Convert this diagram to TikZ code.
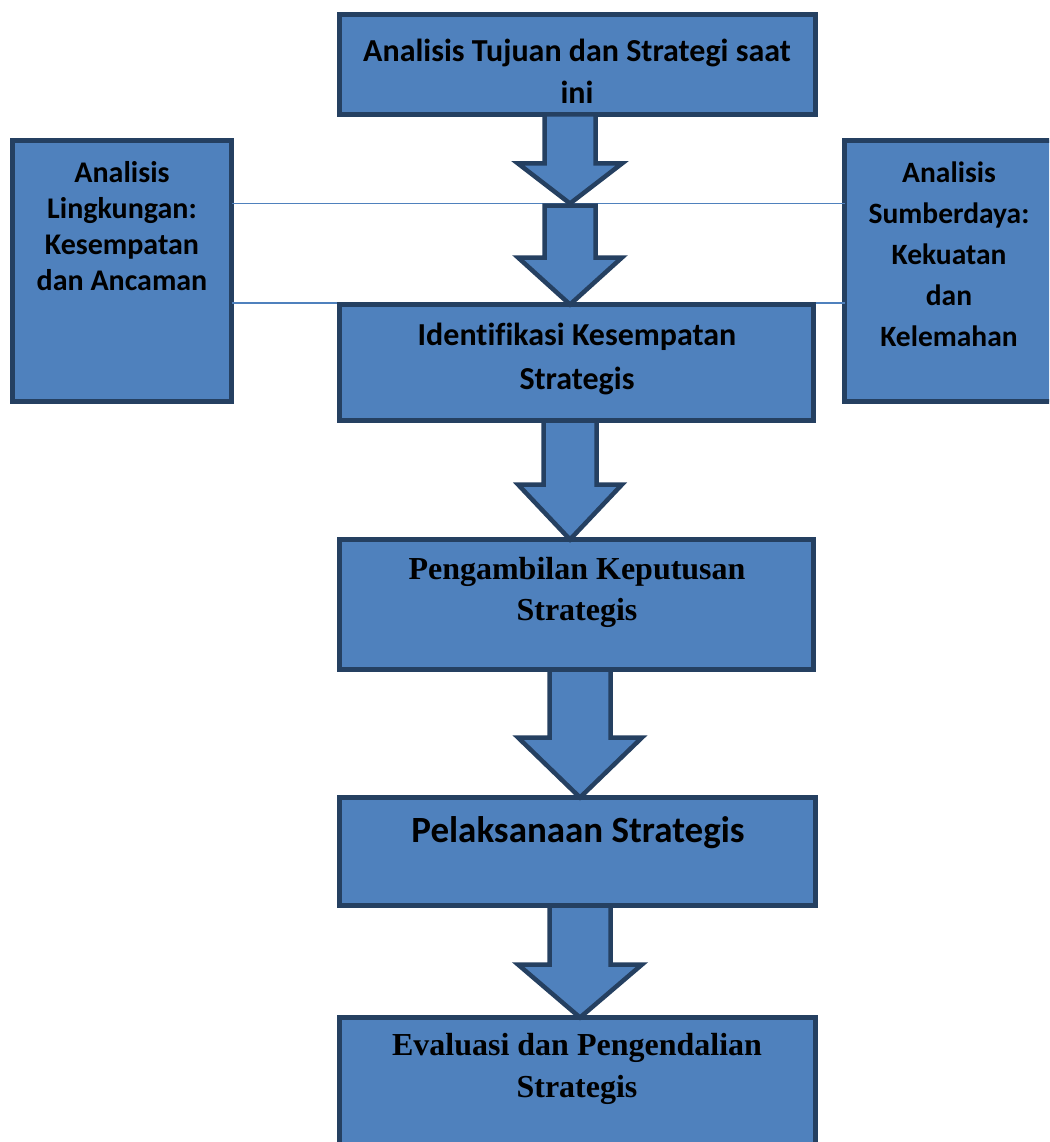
\documentclass[tikz,border=0pt]{standalone}
\usepackage{fontspec}
\setmainfont{Carlito}[Ligatures=CommonOff]
\newfontfamily\timesfont{Liberation Serif}
\usetikzlibrary{calc}
\definecolor{boxfill}{HTML}{4F81BD}
\definecolor{boxline}{HTML}{254061}
\tikzset{
  box/.style={draw=boxline, fill=boxfill, line width=4.5pt, rectangle, inner sep=0pt, outer sep=0pt, anchor=north west},
  farrow/.style={draw=boxline, fill=boxfill, line width=4.5pt, line join=miter},
  thinline/.style={draw=boxfill, line width=1.5pt},
  lbl/.style={align=center, inner sep=0pt, text=black},
  sansA/.style={font=\fontsize{32}{42}\selectfont\bfseries},
  sansS/.style={font=\fontsize{30}{36}\selectfont\bfseries},
  sansR/.style={font=\fontsize{29.5}{41}\selectfont\bfseries},
  serifA/.style={font=\timesfont\fontsize{32}{41}\selectfont\bfseries},
}
% #1 from, #2 to, #3 x centre, #4 half shaft, #5 half head, #6 head length
\newcommand\fatarrow[6]{%
  \draw[farrow] let \p1=(#1), \p2=(#2) in
    (#3pt-#4pt,\y1) -- (#3pt+#4pt,\y1) -- (#3pt+#4pt,\y2+#6pt) -- (#3pt+#5pt,\y2+#6pt)
    -- (#3pt,\y2) -- (#3pt-#5pt,\y2+#6pt) -- (#3pt-#4pt,\y2+#6pt) -- cycle;}
\begin{document}
\begin{tikzpicture}[x=1pt,y=-1pt]
\useasboundingbox (0,0) rectangle (1049,1142);
\clip (0,0) rectangle (1049,1142);
\fill[white] (0,0) rectangle (1049,1142);
% side boxes
\node[box, minimum width=219pt, minimum height=261pt] (L) at (12.5,140.5) {};
\node[box, minimum width=240pt, minimum height=261pt] (R) at (844.5,140.5) {};
% junction coordinates
\coordinate (j1) at (570,203.5);
\coordinate (j2) at (570,303);
% thin lines
\draw[thinline] (L.east |- j1) -- (R.west |- j1);
\draw[thinline] (L.east |- j2) -- (R.west |- j2);
% main boxes
\node[box, minimum width=476pt, minimum height=100pt] (b1) at (339.5,14.5) {};
\node[box, minimum width=474pt, minimum height=116pt] (b2) at (339.5,304.5) {};
\node[box, minimum width=474pt, minimum height=130pt] (b3) at (339.5,539.5) {};
\node[box, minimum width=476pt, minimum height=108pt] (b4) at (339.5,797.5) {};
\node[box, minimum width=476pt, minimum height=140pt] (b5) at (339.5,1017.5) {};
% arrows
\fatarrow{b1.south}{j1}{570}{25.5}{52}{40}
\fatarrow{$(j1)+(0,2)$}{b2.north}{570}{25.5}{52}{47}
\fatarrow{b2.south}{b3.north}{570}{26.5}{52}{55}
\fatarrow{b3.south}{b4.north}{580}{30.5}{62}{60}
\fatarrow{b4.south}{b5.north}{580}{30.5}{62}{53}
% texts
\node[lbl, sansA] (t1) at (577,71) {Analisis Tujuan dan Strategi saat\\ini};
\node[lbl, sansS] (tL) at (122,226) {Analisis\\Lingkungan:\\Kesempatan\\dan Ancaman};
\node[lbl, sansR] (tR) at (949,254) {Analisis\\Sumberdaya:\\Kekuatan\\dan\\Kelemahan};
\node[lbl, sansA, font=\fontsize{32}{44}\selectfont\bfseries] (t2) at (577,359) {Identifikasi Kesempatan\\Strategis};
\node[lbl, serifA] (t3) at (577,592) {Pengambilan Keputusan\\Strategis};
\node[lbl, font=\fontsize{37}{44}\selectfont\bfseries] (t4) at (578,833) {Pelaksanaan Strategis};
\node[lbl, serifA, font=\timesfont\fontsize{32}{42}\selectfont\bfseries] (t5) at (577,1069) {Evaluasi dan Pengendalian\\Strategis};
\end{tikzpicture}
\end{document}
